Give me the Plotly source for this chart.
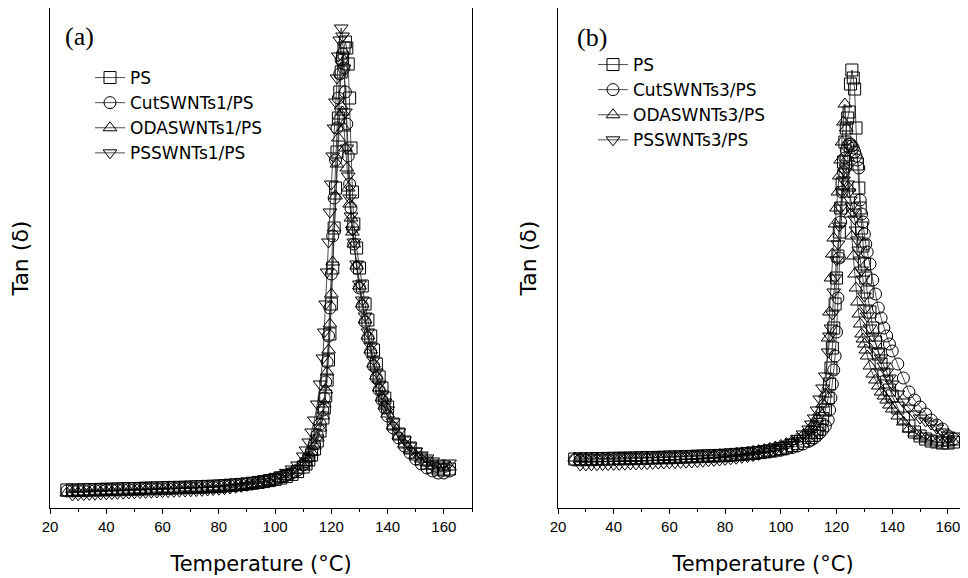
import plotly.graph_objects as go

# ---------------- data ----------------
T_LEFT = [
    26, 28, 30, 32, 34, 36, 38, 40, 42, 44,
    46, 48, 50, 52, 54, 56, 58, 60, 62, 64,
    66, 68, 70, 72, 74, 76, 78, 80, 82, 84,
    86, 88, 90, 92, 94, 96, 98, 100,
    102, 104, 106, 108, 110, 111, 112, 113, 114, 115, 116,
    117, 117.5, 118, 118.5, 119, 119.5, 120, 120.5, 121, 121.5,
    122, 122.5, 123, 123.5, 124, 124.5, 125, 125.5, 126, 126.5,
    127, 127.5, 128,
    129, 130, 131, 132, 133, 134, 135, 136, 137, 138, 139, 140,
    142, 144, 146, 148, 150, 152, 154, 156, 158, 160, 162,
]

LEFT_PS = [
    0.090, 0.090, 0.090, 0.091, 0.092, 0.092, 0.093, 0.094, 0.094, 0.095,
    0.096, 0.097, 0.097, 0.098, 0.099, 0.100, 0.100, 0.101, 0.102, 0.103,
    0.103, 0.104, 0.105, 0.106, 0.107, 0.108, 0.109, 0.110, 0.112, 0.114,
    0.116, 0.118, 0.121, 0.124, 0.128, 0.132, 0.137, 0.143,
    0.150, 0.158, 0.168, 0.182, 0.205, 0.220, 0.240, 0.265, 0.295, 0.335, 0.385,
    0.45, 0.50, 0.56, 0.64, 0.74, 0.87, 1.02, 1.20, 1.40, 1.60,
    1.78, 1.95, 2.08, 2.18, 2.25, 2.30, 2.33, 2.30, 2.22, 2.05,
    1.80, 1.58, 1.42,
    1.30, 1.20, 1.11, 1.02, 0.94, 0.86, 0.79, 0.72, 0.655, 0.60, 0.55, 0.505,
    0.42, 0.37, 0.33, 0.30, 0.27, 0.245, 0.225, 0.205, 0.195, 0.19, 0.195,
]
LEFT_CUT = [
    0.085, 0.085, 0.086, 0.086, 0.087, 0.088, 0.088, 0.089, 0.090, 0.090,
    0.091, 0.092, 0.092, 0.093, 0.094, 0.095, 0.095, 0.096, 0.097, 0.098,
    0.099, 0.100, 0.100, 0.101, 0.102, 0.103, 0.104, 0.106, 0.108, 0.110,
    0.112, 0.115, 0.118, 0.122, 0.126, 0.131, 0.137, 0.145,
    0.153, 0.163, 0.175, 0.190, 0.215, 0.232, 0.255, 0.285, 0.320, 0.365, 0.420,
    0.49, 0.55, 0.63, 0.73, 0.86, 1.00, 1.17, 1.36, 1.55, 1.74,
    1.90, 2.05, 2.17, 2.24, 2.27, 2.20, 2.08, 1.92, 1.76, 1.62,
    1.50, 1.40, 1.32,
    1.20, 1.10, 1.01, 0.93, 0.85, 0.78, 0.71, 0.65, 0.59, 0.54, 0.50, 0.46,
    0.40, 0.35, 0.31, 0.275, 0.245, 0.22, 0.20, 0.185, 0.175, 0.175, 0.185,
]
LEFT_ODA = [
    0.075, 0.076, 0.077, 0.078, 0.079, 0.080, 0.080, 0.081, 0.082, 0.083,
    0.084, 0.085, 0.086, 0.087, 0.088, 0.089, 0.090, 0.091, 0.092, 0.093,
    0.094, 0.095, 0.096, 0.097, 0.098, 0.099, 0.100, 0.101, 0.103, 0.105,
    0.107, 0.110, 0.113, 0.117, 0.121, 0.126, 0.132, 0.140,
    0.148, 0.158, 0.170, 0.186, 0.210, 0.228, 0.250, 0.278, 0.310, 0.350, 0.400,
    0.46, 0.52, 0.59, 0.68, 0.79, 0.92, 1.07, 1.23, 1.40, 1.56,
    1.72, 1.85, 1.96, 2.01, 1.98, 1.90, 1.80, 1.70, 1.60, 1.52,
    1.45, 1.38, 1.32,
    1.21, 1.11, 1.02, 0.94, 0.86, 0.79, 0.72, 0.66, 0.60, 0.55, 0.51, 0.47,
    0.41, 0.36, 0.32, 0.29, 0.265, 0.245, 0.225, 0.21, 0.20, 0.20, 0.205,
]
LEFT_PSS = [
    None, 0.065, 0.066, 0.067, 0.068, 0.069, 0.070, 0.071, 0.072, 0.073,
    0.074, 0.075, 0.076, 0.077, 0.078, 0.079, 0.080, 0.081, 0.082, 0.083,
    0.084, 0.085, 0.086, 0.087, 0.088, 0.090, 0.092, 0.094, 0.097, 0.100,
    0.104, 0.108, 0.113, 0.119, 0.126, 0.134, 0.143, 0.153,
    0.165, 0.178, 0.195, 0.215, 0.260, 0.290, 0.330, 0.380, 0.440, 0.520, 0.620,
    0.75, 0.88, 1.02, 1.18, 1.33, 1.48, 1.62, 1.76, 1.90, 2.03,
    2.15, 2.26, 2.34, 2.40, 2.36, 2.20, 1.98, 1.80, 1.66, 1.55,
    1.46, 1.39, 1.33,
    1.22, 1.12, 1.04, 0.96, 0.88, 0.81, 0.74, 0.68, 0.62, 0.57, 0.53, 0.49,
    0.43, 0.38, 0.34, 0.31, 0.285, 0.265, 0.25, 0.235, 0.225, 0.22, 0.225,
]

T_RIGHT = [
    26, 28, 30, 32, 34, 36, 38, 40, 42, 44,
    46, 48, 50, 52, 54, 56, 58, 60, 62, 64,
    66, 68, 70, 72, 74, 76, 78, 80, 82, 84,
    86, 88, 90, 92, 94, 96, 98, 100,
    102, 104, 106, 108, 110, 111, 112, 113, 114, 115, 116,
    117, 117.5, 118, 118.5, 119, 119.5, 120, 120.5, 121, 121.5,
    122, 122.5, 123, 123.5, 124, 124.5, 125, 125.5, 126, 126.5,
    127, 127.5, 128, 128.5, 129, 129.5, 130, 130.5, 131,
    132, 133, 134, 135, 136, 137, 138, 139, 140,
    142, 144, 146, 148, 150, 152, 154, 156, 158, 160, 162,
]

RIGHT_PS = [
    0.245, 0.245, 0.246, 0.246, 0.247, 0.247, 0.248, 0.248, 0.249, 0.249,
    0.250, 0.250, 0.251, 0.252, 0.252, 0.253, 0.254, 0.255, 0.255, 0.256,
    0.257, 0.258, 0.259, 0.260, 0.261, 0.262, 0.263, 0.264, 0.266, 0.268,
    0.270, 0.272, 0.275, 0.278, 0.282, 0.286, 0.291, 0.297,
    0.304, 0.312, 0.322, 0.335, 0.352, 0.363, 0.377, 0.395, 0.418, 0.448, 0.490,
    0.55, 0.62, 0.70, 0.80, 0.90, 1.02, 1.15, 1.26, 1.38, 1.50,
    1.62, 1.73, 1.83, 1.90, 1.95, 1.98, 2.12, 2.19, 2.15, 2.095,
    1.90, 1.72, 1.60, 1.50, 1.40, 1.31, 1.22, 1.15, 1.08,
    0.98, 0.90, 0.83, 0.77, 0.72, 0.67, 0.63, 0.59, 0.56,
    0.50, 0.45, 0.41, 0.38, 0.36, 0.345, 0.335, 0.33, 0.325, 0.325, 0.33,
]
RIGHT_CUT = [
    0.240, 0.240, 0.241, 0.241, 0.242, 0.242, 0.243, 0.243, 0.244, 0.245,
    0.245, 0.246, 0.247, 0.247, 0.248, 0.249, 0.250, 0.250, 0.251, 0.252,
    0.253, 0.254, 0.255, 0.256, 0.257, 0.258, 0.259, 0.260, 0.262, 0.264,
    0.266, 0.268, 0.270, 0.273, 0.276, 0.280, 0.284, 0.289,
    0.295, 0.302, 0.310, 0.320, 0.333, 0.341, 0.350, 0.362, 0.376, 0.392, 0.410,
    0.44, 0.49, 0.55, 0.62, 0.69, 0.76, 0.88, 1.05, 1.25, 1.43,
    1.58, 1.68, 1.75, 1.79, 1.81, 1.82, 1.82, 1.81, 1.80, 1.78,
    1.76, 1.74, 1.70, 1.54, 1.47, 1.43, 1.37, 1.32, 1.28,
    1.22, 1.14, 1.07, 1.00, 0.95, 0.90, 0.86, 0.82, 0.785,
    0.72, 0.65, 0.58, 0.54, 0.505, 0.47, 0.44, 0.415, 0.395, 0.36, 0.345,
]
RIGHT_ODA = [
    0.250, 0.249, 0.249, 0.248, 0.248, 0.248, 0.248, 0.249, 0.249, 0.250,
    0.250, 0.251, 0.251, 0.252, 0.253, 0.253, 0.254, 0.255, 0.256, 0.257,
    0.258, 0.259, 0.260, 0.261, 0.262, 0.264, 0.266, 0.268, 0.270, 0.273,
    0.276, 0.279, 0.283, 0.287, 0.292, 0.298, 0.305, 0.313,
    0.322, 0.333, 0.347, 0.365, 0.390, 0.405, 0.425, 0.450, 0.480, 0.520, 0.570,
    0.85, 0.98, 1.15, 1.27, 1.35, 1.42, 1.50, 1.58, 1.66, 1.74,
    1.83, 1.93, 2.02, 1.90, 1.75, 1.60, 1.47, 1.36, 1.26, 1.17,
    1.10, 1.03, 0.97, 0.92, 0.87, 0.845, 0.82, 0.79, 0.76,
    0.71, 0.67, 0.64, 0.61, 0.58, 0.56, 0.54, 0.515, 0.495,
    0.46, 0.43, 0.395, 0.375, 0.36, 0.35, 0.34, 0.33, 0.325, 0.325, 0.33,
]
RIGHT_PSS = [
    None, 0.215, 0.215, 0.216, 0.216, 0.217, 0.217, 0.218, 0.218, 0.219,
    0.220, 0.220, 0.221, 0.222, 0.223, 0.224, 0.225, 0.226, 0.227, 0.228,
    0.229, 0.230, 0.232, 0.234, 0.236, 0.238, 0.240, 0.243, 0.246, 0.249,
    0.253, 0.257, 0.262, 0.268, 0.275, 0.283, 0.292, 0.302,
    0.315, 0.330, 0.348, 0.370, 0.395, 0.420, 0.450, 0.490, 0.545, 0.600, 0.660,
    0.78, 0.86, 0.90, 0.97, 1.08, 1.15, 1.24, 1.32, 1.41, 1.50,
    1.58, 1.64, 1.68, 1.70, 1.62, 1.58, 1.54, 1.51, 1.48, 1.445,
    1.39, 1.34, 1.29, 1.24, 1.19, 1.145, 1.06, 1.00, 0.96,
    0.90, 0.86, 0.82, 0.78, 0.75, 0.71, 0.68, 0.65, 0.62,
    0.57, 0.53, 0.50, 0.47, 0.45, 0.435, 0.42, 0.40, 0.38, 0.365, 0.36,
]

LEFT_NAMES = ["PS", "CutSWNTs1/PS", "ODASWNTs1/PS", "PSSWNTs1/PS"]
RIGHT_NAMES = ["PS", "CutSWNTs3/PS", "ODASWNTs3/PS", "PSSWNTs3/PS"]
SYMBOLS = ["square-open", "circle-open", "triangle-up-open", "triangle-down-open"]
X_TICKS = [20, 40, 60, 80, 100, 120, 140, 160]

for name, arr, t in [("LEFT_PS", LEFT_PS, T_LEFT), ("LEFT_CUT", LEFT_CUT, T_LEFT),
                     ("LEFT_ODA", LEFT_ODA, T_LEFT), ("LEFT_PSS", LEFT_PSS, T_LEFT),
                     ("RIGHT_PS", RIGHT_PS, T_RIGHT), ("RIGHT_CUT", RIGHT_CUT, T_RIGHT),
                     ("RIGHT_ODA", RIGHT_ODA, T_RIGHT), ("RIGHT_PSS", RIGHT_PSS, T_RIGHT)]:
    if len(arr) != len(t):
        raise ValueError(f"{name}: {len(arr)} values vs {len(t)} temperatures")

# ---------------- figure ----------------
FONT = "DejaVu Sans"
TICKFONT = "Liberation Sans"
fig = go.Figure()

def add_series(x, y, name, symbol, xa, ya, legend):
    fig.add_trace(go.Scatter(
        x=x, y=y, name=name, mode="lines+markers", connectgaps=False,
        xaxis=xa, yaxis=ya, legend=legend,
        line=dict(color="#222222", width=0.8),
        marker=dict(symbol=symbol, size=12, color="black",
                    line=dict(color="black", width=1)),
    ))

for arr, nm, sym in zip([LEFT_PS, LEFT_CUT, LEFT_ODA, LEFT_PSS], LEFT_NAMES, SYMBOLS):
    add_series(T_LEFT, arr, nm, sym, "x", "y", "legend")
for arr, nm, sym in zip([RIGHT_PS, RIGHT_CUT, RIGHT_ODA, RIGHT_PSS], RIGHT_NAMES, SYMBOLS):
    add_series(T_RIGHT, arr, nm, sym, "x2", "y2", "legend2")

# the page body adds an 8px offset, so the figure is 8px smaller than the window
W, H = 960, 570
ML, MR, MT, MB = 42, 0, 0, 70
PW = W - ML - MR
PH = H - MT - MB

def px(xpage):
    return (xpage - 8 - ML) / PW

def py(ypage):
    return 1 - (ypage - 8 - MT) / PH

xcommon = dict(
    tickvals=X_TICKS, ticks="outside", ticklen=5, tickwidth=1, tickcolor="black",
    minor=dict(dtick=10, tick0=0, ticks="outside", ticklen=3, tickcolor="black"),
    showline=True, linecolor="black", linewidth=1.2, mirror=True,
    showgrid=False, zeroline=False,
    tickfont=dict(family=TICKFONT, size=15, color="black"),
    title=dict(text="Temperature (°C)", font=dict(family=FONT, size=21, color="black"),
               standoff=22),
)
ycommon = dict(
    range=[0, 2.5], showticklabels=False, ticks="", showgrid=False, zeroline=False,
    showline=True, linecolor="black", linewidth=1.2,
    title=dict(text="Tan (δ)", font=dict(family=FONT, size=22, color="black"),
               standoff=14),
)

legcommon = dict(
    font=dict(family=FONT, size=17, color="black"),
    bgcolor="rgba(0,0,0,0)", borderwidth=0, tracegroupgap=0,
    xanchor="left", yanchor="top", itemsizing="trace",
)

fig.update_layout(
    width=W, height=H,
    margin=dict(l=ML, r=MR, t=MT, b=MB),
    paper_bgcolor="white", plot_bgcolor="white",
    xaxis=dict(domain=[0, px(472)], range=[20, 170], anchor="y", **xcommon),
    yaxis=dict(domain=[0, 1], anchor="x", mirror=True, **ycommon),
    xaxis2=dict(domain=[px(558), 1], range=[20, 167.2], anchor="y2", **xcommon),
    yaxis2=dict(domain=[0, 1], anchor="x2", mirror=False, **ycommon),
    legend=dict(x=px(90), y=py(60), **legcommon),
    legend2=dict(x=px(593), y=py(47), **legcommon),
    showlegend=True,
    annotations=[
        dict(text="(a)", xref="paper", yref="paper", x=px(63), y=py(36),
             xanchor="left", yanchor="middle", showarrow=False,
             font=dict(family="Liberation Serif", size=26, color="black")),
        dict(text="(b)", xref="paper", yref="paper", x=px(575), y=py(37),
             xanchor="left", yanchor="middle", showarrow=False,
             font=dict(family="Liberation Serif", size=26, color="black")),
    ],
)

fig.write_html("out.html")
